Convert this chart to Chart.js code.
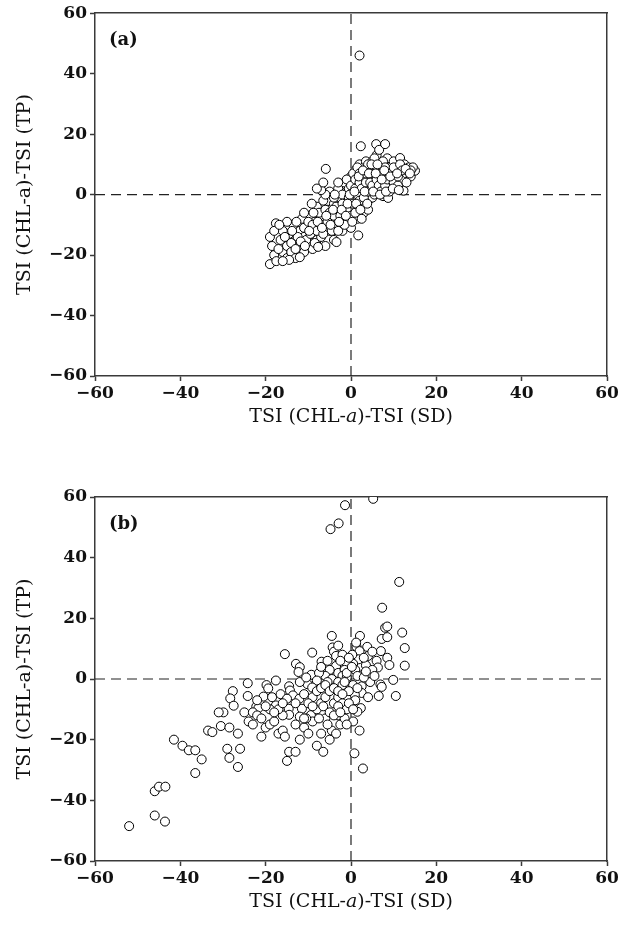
<!DOCTYPE html>
<html>
<head>
<meta charset="utf-8">
<title>TSI deviations</title>
<script src="https://cdn.jsdelivr.net/npm/chart.js@4.4.0/dist/chart.umd.min.js"></script>
<style>
  html, body { margin: 0; padding: 0; background: #fff; }
  #wrap { position: relative; width: 635px; height: 929px; }
  canvas { position: absolute; left: 0; }
</style>
</head>
<body>
<div id="wrap">
  <canvas id="chartA" width="635" height="440" style="top:0"></canvas>
  <canvas id="chartB" width="635" height="489" style="top:440px"></canvas>
</div>
<script>
// Axis ticks and labels
const tickValues = [-60, -40, -20, 0, 20, 40, 60];
const zeroLine = [-60, 60];
const xTitleParts = ['TSI (CHL-', 'a', ')-TSI (SD)'];   // middle part is italic
const yTitle = 'TSI (CHL-a)-TSI (TP)';
const panelLabels = ['(a)', '(b)'];

// Panel (a): [TSI(CHL-a)-TSI(SD), TSI(CHL-a)-TSI(TP)]
const pointsA = [
  [-19,-23],[-18,-20],[-17.5,-22],[-18.5,-17],[-19,-14],[-17.6,-9.5],[-16,-19],[-16.5,-15],[-15,-21],[-15,-17],
  [-14.5,-13],[-14,-19],[-13.5,-10],[-13,-15],[-13,-21],[-12,-17],[-12,-12],[-11.5,-8],[-11,-14],[-11,-19],
  [-10,-11],[-10,-16],[-9.5,-7],[-9,-13],[-9,-18],[-8.5,-9],[-8,-15],[-8,-4],[-7.5,-11],[-7,-7],
  [-7,-14],[-6.5,-2],[-6,-9],[-6,-17],[-5.9,8.5],[-5.5,-5],[-5,-12],[-5,1],[-4.5,-8],[-4,-3],
  [-4,-15],[-3.5,-10],[-3,-6],[-3,2],[-2.5,-1],[-2,-12],[-2,-8],[-1.5,4],[-1.5,-4],[-1,-9],
  [-1,1],[-0.5,-6],[0,-2],[0,6],[0,-11],[0.5,3],[0.5,-5],[1,8],[1,-1],[1.5,-8],
  [1.5,4],[1.7,-13.5],[2,1],[2,10],[2.3,16],[2.5,-3],[2.5,6],[3,3],[3,-6],[3,9],
  [3.5,0],[3.5,11],[4,5],[4,-2],[4.5,8],[4.5,2],[5,11],[5,-1],[5.5,5],[5.5,9],
  [5.9,16.7],[6,2],[6,13],[6.6,14.8],[6.5,7],[7,4],[7,10],[7.5,-0.5],[8,16.7],[8,6],
  [8.7,-1.1],[8.5,12],[9,3],[9,9],[10,6],[10,11],[10.5,2],[11,8],[11.5,12.1],[12,5],
  [12.3,1.3],[12.5,10],[13,7],[13.5,9],[14,6],[15,7.9],[14.5,9],[2,46],
  [-17,-18],[-16,-12],[-15,-9],[-14,-16],[-13,-18],[-12.5,-14],[-12,-20.7],[-11,-11],[-10.5,-15],[-10,-9],
  [-9.5,-13],[-9,-10],[-8.5,-16],[-8,-12],[-7.5,-6],[-7,-10],[-6.5,-13],[-6,-5],[-6,0],[-5.5,-9],
  [-5,-6],[-4.5,-12],[-4,-1],[-4,-7],[-3.5,-4],[-3.4,-15.7],[-3,-12],[-3,4],[-2.5,-7],[-2,0],
  [-2,-3],[-1.5,-10],[-1,-5],[-1,5],[-0.5,-1],[-0.5,2],[0,-7],[0,3],[0.5,7],[0.5,-3],
  [1,-6],[1,2],[1,5],[1.5,0],[1.5,9],[2,-2],[2,4],[2,7],[2.5,-8],[2.5,2],
  [3,6],[3,-1],[3.5,4],[3.5,7],[4,1],[4,10],[4,-5],[4.5,4],[5,3],[5,7],
  [5.5,0],[5.5,12],[6,5],[6,9],[6.5,3],[7,7],[7,1],[7.5,11],[8,3],[8,9],
  [8.5,5],[9,1],[9.5,7],[10,4],[10,9],[11,3],[11,6],[11.5,10],[12,8],[13,4],
  [14,8],[-7.7,-17.3],[-14.5,-21.6],[-16,-22],[-7,1.5],[-8,2],[-6.5,4],
  [-18,-12],[-16.8,-10],[-15.5,-14],[-13.8,-12],[-12.8,-9],[-11.8,-15.5],[-10.8,-17],[-9.8,-12],[-8.8,-6],[-7.8,-9],
  [-6.8,-11],[-5.8,-7],[-4.8,-10],[-4.2,-5],[-3.8,0],[-2.8,-9],[-2.2,-5],[-1.2,-7],[-0.8,-3],[-0.3,0],
  [0.3,-9],[0.8,1],[1.2,-3],[1.8,6],[2.2,-5],[2.8,8],[3.2,1],[3.8,-3],[4.2,7],[4.8,10],
  [5.2,1],[5.8,7],[6.2,10],[6.8,0],[7.2,5],[7.8,8],[8.2,1],[9.2,6],[9.8,2],[10.8,7],
  [11.2,1.5],[12.8,8.5],[13.8,7],[-9.2,-3],[-11,-6]
];

// Panel (b)
const pointsB = [
  [-4.8,49.4],[-2.9,51.3],[-1.4,57.3],[5.2,59.4],
  [11.3,32],[7.3,23.5],[8,16.9],[8.5,17.3],[12,15.3],[7.2,13.2],[8.5,13.8],[12.6,10.2],[7,9.2],[8.5,7],
  [9,4.6],[12.6,4.4],[9.9,-0.3],[6.9,-1.8],[7.2,-2.6],[6.5,-5.6],[10.5,-5.6],
  [2.1,14.2],[3.8,10.6],[1.3,10.6],[2,9.2],[1.8,6.5],[4,7.6],[6,6],[6.3,3.8],[4.8,1.5],
  [2.9,1.5],[2.5,-2.4],[2.5,-4.6],[0.9,-5.2],[2.3,-9.6],[1.5,-10.8],[0.8,-24.5],[2.8,-29.5],
  [0.5,5],[1,3],[3.5,4.5],[5,3],[4.5,-1],[1.5,1],[0.5,-2],[3,0.5],[5.5,1],[1,-7],
  [4,-6],[2,-17],[0.5,-14],[3.5,2.5],[1.2,12],[0.3,8],
  [-4.5,14.2],[-4.3,10.4],[-4,9],[-3.5,4.3],[-3.5,7.6],[-9.1,8.7],[-15.5,8.2],[-6.9,5.7],[-12.9,5],[-12,3.9],
  [-12.3,2.3],[-9.3,1.4],[-2,8],[-1,5],[-2.5,6],[-0.5,7],[-3,2],[-1.5,3],[-2,1],[-5,3],
  [-6,1],[-7.5,2],[-8,-0.5],[-1,0.5],[-4.5,0],[-5.5,-1],[-3,-1],[-2,-2],
  [-17.6,-0.5],[-24.2,-1.4],[-24.2,-5.6],[-27.7,-4],[-28.3,-6.4],[-27.5,-8.8],[-29.9,-11],[-19.8,-2],[-19.4,-3.1],[-20.5,-5.8],
  [-22.2,-9.1],[-21.7,-9.6],[-17.6,-8.7],[-14.5,-2.4],[-14.3,-3.8],[-13.6,-5.4],[-14.6,-9.8],[-14.5,-11.8],[-12.1,-6.5],[-11.5,-9.8],
  [-10.2,-1.7],[-9.1,-2.8],[-12,-12.4],[-9.4,-11.9],
  [-52,-48.5],[-46,-45],[-43.6,-47],[-46,-37],[-45,-35.5],[-43.5,-35.5],[-41.5,-20],[-39.5,-22],[-38,-23.5],[-36.5,-23.5],
  [-36.5,-31],[-35,-26.5],[-33.5,-17],[-32.5,-17.5],[-31,-11],[-30.5,-15.5],[-29,-23],[-28.5,-26],[-26.5,-29],[-26,-23],
  [-28.5,-16],[-26.5,-18],[-25,-11],[-24,-14],[-23,-11],[-22,-12],[-21,-13],[-20,-16],[-19,-15],[-18,-14],
  [-17,-18],[-16,-17],[-15.5,-19],[-15,-27],[-14.5,-24],[-13,-24],[-12,-20],[-11,-16],[-10,-18],[-9,-14],
  [-8,-22],[-7,-18],[-6.5,-24],[-5,-20],[-4.5,-17],[-3.5,-18],[-2.5,-15],[-6,-13],[-5,-11],[-3,-12],
  [-1.5,-13],[-8,-10],[-7,-8],[-6,-6],[-4,-8],[-3,-6],[-2,-8],[-1,-10],[-0.5,-4],[-10.5,-13],
  [-13,-15],[-16,-12],[-17,-10],[-19,-10],[-20,-9],[-22,-7],[-23,-15],[-18.5,-6],[-16.5,-5],[-15,-6.5],
  [-11,-5],[-9,-6],[-8,-4],[-7,-3],[-6,-2],[-5,-4],[-4,-3],[-3,-4],[-2,-5],[-1.5,-1],
  [-18,-11],[-16,-8],[-13,-8],[-11,-13],[-10,-8],[-9,-9],[-7.5,-13],[-6.5,-9],[-5.5,-15],[-4,-12],
  [-3,-9],[-2.5,-11],[-1,-15],[-0.5,-8],[0.5,-10],[1.5,-3],[-12,-1],[-10.5,0.5],[-7,4],[-5.5,6],
  [-3,11],[-1,2],[0.2,4],[3,7],[5,9],[-21,-19]
];

const axisColor = '#3a3a3a';
const textColor = '#111';
const serif = '"DejaVu Serif", serif';
const tickFont = { family: serif, size: 17, weight: 'bold' };
const titleFont = { family: serif, size: 19, weight: 'normal' };

// Format ticks with a real minus sign
function formatTick(value) {
    return value < 0 ? '\u2212' + Math.abs(value) : String(value);
}

// Panel label (a)/(b) and the x title with its italic "a"
const annotatePlugin = {
    id: 'annotate',
    afterDraw(chart, args, opts) {
        const { ctx, chartArea } = chart;
        ctx.save();
        ctx.fillStyle = textColor;
        ctx.textBaseline = 'middle';
        ctx.textAlign = 'left';
        ctx.font = 'bold 18px ' + serif;
        ctx.fillText(opts.label, chartArea.left + 14, chartArea.top + 27);

        const fonts = ['19px ' + serif, 'italic 19px ' + serif, '19px ' + serif];
        const widths = xTitleParts.map((t, i) => { ctx.font = fonts[i]; return ctx.measureText(t).width; });
        let x = (chartArea.left + chartArea.right) / 2 - widths.reduce((a, b) => a + b, 0) / 2;
        xTitleParts.forEach((t, i) => {
            ctx.font = fonts[i];
            ctx.fillText(t, x, opts.titleY);
            x += widths[i];
        });
        ctx.restore();
    }
};

function zeroDataset(data) {
    return {
        data: data,
        showLine: true,
        borderColor: '#222',
        borderWidth: 1.2,
        borderDash: [10, 6],
        pointRadius: 0,
        order: 1
    };
}

function makeChart(canvasId, points, label, padTop, axisHeight, titleY) {
    const ctx = document.getElementById(canvasId).getContext('2d');
    return new Chart(ctx, {
        type: 'scatter',
        data: {
            datasets: [
                {
                    data: points.map(p => ({ x: p[0], y: p[1] })),
                    pointRadius: 4.5,
                    pointBackgroundColor: '#fff',
                    pointBorderColor: '#000',
                    pointBorderWidth: 1,
                    order: 0
                },
                zeroDataset(zeroLine.map(v => ({ x: 0, y: v }))),
                zeroDataset(zeroLine.map(v => ({ x: v, y: 0 })))
            ]
        },
        options: {
            responsive: false,
            animation: false,
            layout: { padding: { top: padTop, right: 28, left: 0, bottom: 0 } },
            plugins: {
                legend: { display: false },
                tooltip: { enabled: false },
                annotate: { label: label, titleY: titleY }
            },
            scales: {
                x: {
                    type: 'linear',
                    position: 'bottom',
                    min: tickValues[0],
                    max: tickValues[tickValues.length - 1],
                    afterFit: s => { s.height = axisHeight; },
                    afterBuildTicks: s => { s.ticks = tickValues.map(v => ({ value: v })); },
                    ticks: { font: tickFont, color: textColor, padding: 2, maxRotation: 0, autoSkip: false, callback: formatTick },
                    grid: { drawOnChartArea: false, drawTicks: true, tickLength: 5, tickColor: axisColor, tickWidth: 1.5 },
                    border: { color: axisColor, width: 1.5 }
                },
                y: {
                    type: 'linear',
                    position: 'left',
                    min: tickValues[0],
                    max: tickValues[tickValues.length - 1],
                    afterFit: s => { s.width = 95; },
                    afterBuildTicks: s => { s.ticks = tickValues.map(v => ({ value: v })); },
                    ticks: { font: tickFont, color: textColor, padding: 3, autoSkip: false, callback: formatTick },
                    grid: { drawOnChartArea: false, drawTicks: true, tickLength: 5, tickColor: axisColor, tickWidth: 1.5 },
                    border: { color: axisColor, width: 1.5 },
                    title: { display: true, text: yTitle, font: titleFont, color: textColor, padding: { top: 14, bottom: 0 } }
                },
                x2: {
                    type: 'linear',
                    position: 'top',
                    min: -60, max: 60,
                    afterFit: s => { s.height = 0; },
                    ticks: { display: false },
                    grid: { display: false, drawTicks: false },
                    border: { color: axisColor, width: 1.5 }
                },
                y2: {
                    type: 'linear',
                    position: 'right',
                    min: -60, max: 60,
                    afterFit: s => { s.width = 0; },
                    ticks: { display: false },
                    grid: { display: false, drawTicks: false },
                    border: { color: axisColor, width: 1.5 }
                }
            }
        },
        plugins: [annotatePlugin]
    });
}

makeChart('chartA', pointsA, panelLabels[0], 12, 64, 417);
makeChart('chartB', pointsB, panelLabels[1], 57, 68, 462);
</script>
</body>
</html>
